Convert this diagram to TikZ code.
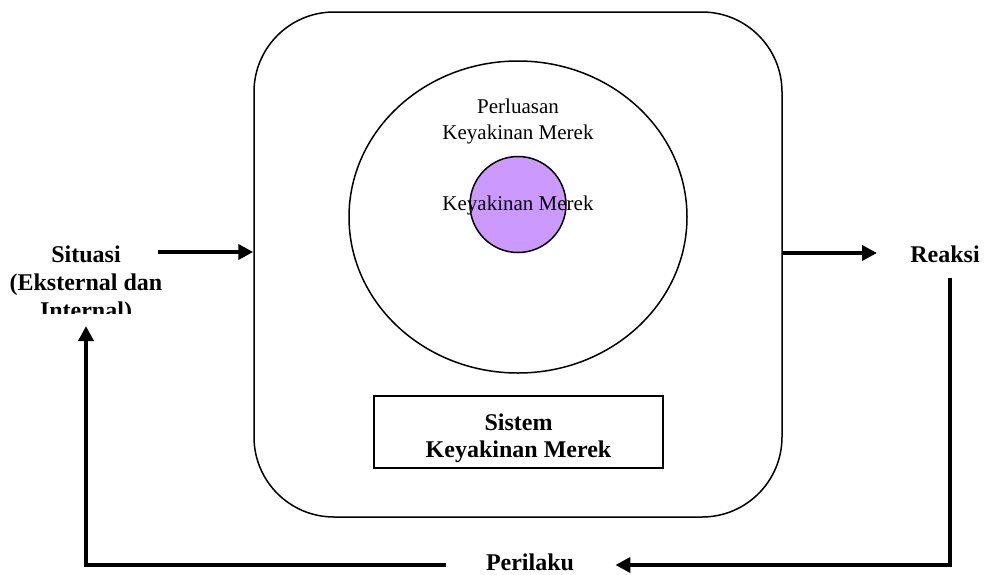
\documentclass[tikz,border=0pt]{standalone}
\usepackage{fontspec}
\setmainfont{Liberation Serif}
\usetikzlibrary{arrows.meta,shapes.geometric}
\definecolor{corepurple}{RGB}{204,153,255}
\begin{document}
\begin{tikzpicture}[x=0.5pt,y=-0.5pt,
  lbl/.style={inner sep=0pt, font=\bfseries\fontsize{12}{14}\selectfont, align=center},
  boxlbl/.style={inner sep=0pt, font=\bfseries\fontsize{12}{13.5}\selectfont, align=center},
  txt/.style={inner sep=0pt, font=\fontsize{10.5}{13}\selectfont, align=center},
  arr/.style={line width=2pt, -{Triangle[length=7.5pt,width=7.5pt]}},
  thinline/.style={line width=0.75pt}]
\useasboundingbox (0,0) rectangle (986,574);
% system frame
\node[draw, thinline, rounded corners=40pt, minimum width=264pt, minimum height=252.5pt, inner sep=0pt] (sys) at (518,264.5) {};
% outer ellipse and core circle
\node[draw, thinline, ellipse, minimum width=169pt, minimum height=156pt, inner sep=0pt] (ell) at (518,217) {};
\node[draw, thinline, circle, fill=corepurple, minimum size=48pt, inner sep=0pt] (core) at (518,204.5) {};
\node[txt, anchor=north] (ext) at (518,98.5) {Perluasan\\Keyakinan Merek};
\node[txt, anchor=base] (coretxt) at (518,210) {Keyakinan Merek};
% system box
\node[draw, line width=1pt, minimum width=144.5pt, minimum height=36pt, inner sep=0pt] (box) at (518.5,432) {};
\node[boxlbl, anchor=north] (boxtxt) at (518.5,413.5) {Sistem\\Keyakinan Merek};
% side labels
\begin{scope}
\clip (0,0) rectangle (250,313);
\node[lbl, anchor=north] (sit) at (86,245.5) {Situasi\\(Eksternal dan\\Internal)};
\end{scope}
\node[lbl, anchor=base] (rea) at (945,262) {Reaksi};
\node[lbl, anchor=base] (per) at (530,570.5) {Perilaku};
% connectors
\coordinate (sitout) at (158,252);
\coordinate (reain) at (877,253);
\coordinate (fbrow) at (0,565);
\draw[arr] (sitout) -- (sys.west |- sitout);
\draw[arr] (sys.east |- reain) -- (reain);
\draw[arr] ([xshift=2.5pt,yshift=-7.5pt]rea.south) |- ([xshift=20.5pt]per.east |- fbrow);
\draw[arr] ([xshift=-20pt]per.west |- fbrow) -| ([yshift=-1pt]sit.south);
\end{tikzpicture}
\end{document}
